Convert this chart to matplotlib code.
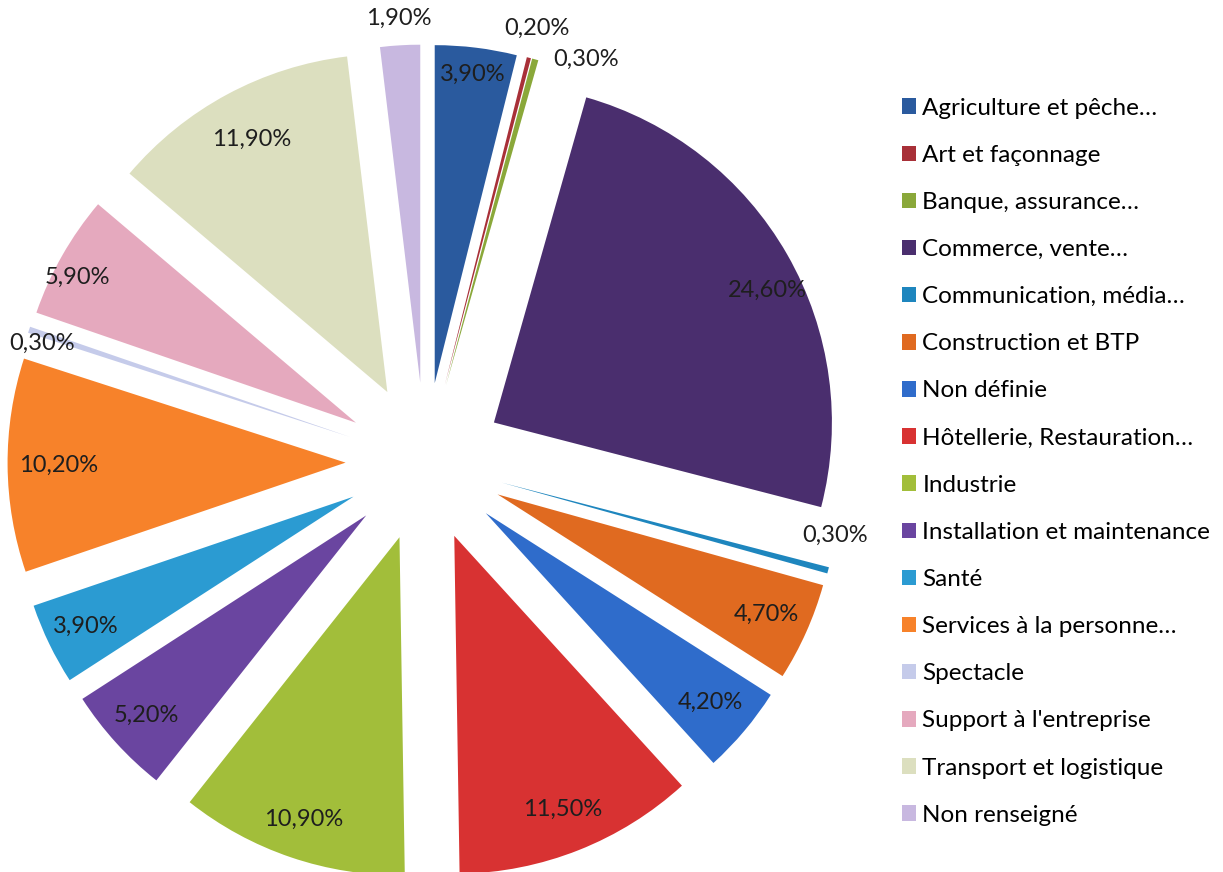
import matplotlib
matplotlib.use("Agg")
import matplotlib.pyplot as plt
import numpy as np
from matplotlib.patches import Patch

categories = ["Agriculture et pêche…", "Art et façonnage", "Banque, assurance…",
              "Commerce, vente…", "Communication, média…", "Construction et BTP",
              "Non définie", "Hôtellerie, Restauration…", "Industrie",
              "Installation et maintenance", "Santé", "Services à la personne…",
              "Spectacle", "Support à l'entreprise", "Transport et logistique",
              "Non renseigné"]
values = [3.9, 0.2, 0.3, 24.6, 0.3, 4.7, 4.2, 11.5, 10.9, 5.2, 3.9, 10.2, 0.3, 5.9, 11.9, 1.9]
labels = ["3,90%", "0,20%", "0,30%", "24,60%", "0,30%", "4,70%", "4,20%", "11,50%",
          "10,90%", "5,20%", "3,90%", "10,20%", "0,30%", "5,90%", "11,90%", "1,90%"]

colors = ["#2A5A9E", "#A83038", "#8AA83A", "#4A2E6E", "#1E86BE", "#E06A20",
          "#2F6CCB", "#D83232", "#A2BE3A", "#6A45A0", "#2B9BD2", "#F7822A",
          "#C5CBEA", "#E5A9BE", "#DCDFBF", "#C8B8E0"]

# label placement (radial distance from exploded slice apex, angle tweak in degrees)
label_dist = [0.92, 1.09, 1.05, 0.9, 1.0, 0.87, 0.87, 0.87, 0.88, 0.88, 0.88, 0.85, 0.95, 0.93, 0.85, 1.08]
label_dang = [0, 0, -8, -4, 6, 0, 0, 0, 0, 0, 0, 0, 1.5, 2.0, 0, 0]

plt.rcParams['font.family'] = ['Lato', 'DejaVu Sans']

W, H = 1223, 872
fig = plt.figure(figsize=(W / 100, H / 100), dpi=100)
ax = fig.add_axes([0, 0, 1, 1])

cx, cy, R = 425, 462, 338
explode = 0.235
wedges, _ = ax.pie(values, colors=colors, startangle=90, counterclock=False,
                   explode=[explode] * len(values), radius=1.0,
                   wedgeprops=dict(linewidth=0))

ax.set_aspect('auto')
ax.set_xlim(-cx / R, (W - cx) / R)
ax.set_ylim((cy - H) / R, cy / R)
ax.axis('off')

for w, lab, d, da in zip(wedges, labels, label_dist, label_dang):
    mid = np.deg2rad((w.theta1 + w.theta2) / 2)
    ox, oy = explode * np.cos(mid), explode * np.sin(mid)
    ang = mid + np.deg2rad(da)
    ax.text(ox + d * np.cos(ang), oy + d * np.sin(ang), lab, ha='center', va='center',
            fontsize=17, color='#1e1e1e')

handles = [Patch(facecolor=c, edgecolor='none') for c in colors]
leg = fig.legend(handles, categories, loc='upper left',
                 bbox_to_anchor=(892 / W, 1 - 88 / H), frameon=False,
                 fontsize=17.5, handlelength=0.6, handleheight=0.6,
                 handletextpad=0.25, labelspacing=1.075, borderaxespad=0)

fig.savefig("out.png", dpi=100)
